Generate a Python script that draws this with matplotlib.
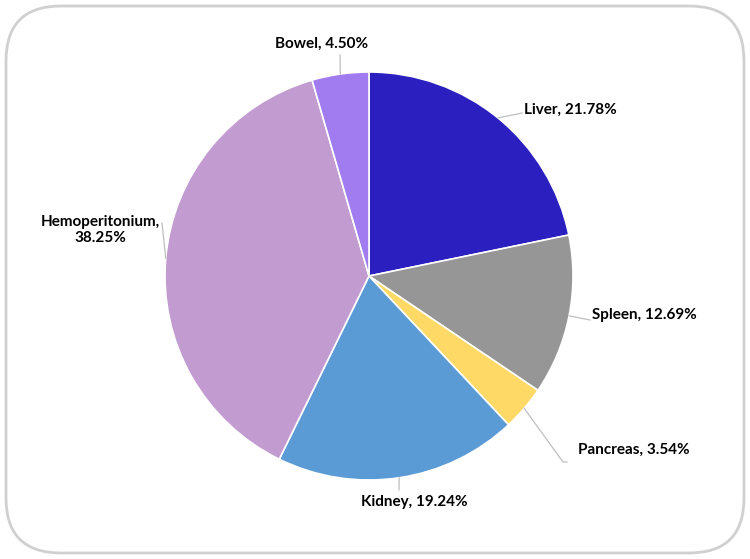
import matplotlib
matplotlib.use("Agg")
import matplotlib.pyplot as plt
from matplotlib.patches import FancyBboxPatch
import numpy as np

categories = ["Liver", "Spleen", "Pancreas", "Kidney", "Hemoperitonium", "Bowel"]
values = [21.78, 12.69, 3.54, 19.24, 38.25, 4.50]
colors = ["#2B20BF", "#969696", "#FFD966", "#5B9BD5", "#C29BD1", "#A07CF0"]
label_texts = ["Liver, 21.78%", "Spleen, 12.69%", "Pancreas, 3.54%", "Kidney, 19.24%",
               "Hemoperitonium,\n38.25%", "Bowel, 4.50%"]

W, H = 750, 559
fig = plt.figure(figsize=(W / 100, H / 100), dpi=100)
ax = fig.add_axes([0, 0, 1, 1])

cx, cy, R = 369, H - 276, 204
wedges, _ = ax.pie(values, colors=colors, startangle=90, counterclock=False,
                   center=(cx, cy), radius=R, frame=True,
                   wedgeprops=dict(edgecolor="white", linewidth=1.2))
ax.set_xlim(0, W)
ax.set_ylim(0, H)
ax.set_aspect("equal")
ax.axis("off")

border = FancyBboxPatch((6, 6), W - 12, H - 12, boxstyle="round,pad=0,rounding_size=55",
                        linewidth=2, edgecolor="#D0D0D0", facecolor="white", zorder=-5)
ax.add_patch(border)

# (text x, text y in pixels from top, ha, leader end points in pixels)
layout = [
    (524, 110, "left", [(522, 113)]),
    (592, 315, "left", [(590, 320)]),
    (578, 450, "left", [(563, 462), (567, 462)]),
    (414, 502, "center", [(399, 490)]),
    (100, 230, "center", [(162, 223)]),
    (322, 44, "center", [(340, 55)]),
]

tfont = dict(family=["Lato", "DejaVu Sans"], weight="bold", size=11, color="#000000")
for w, txt, (tx, ty, ha, pts) in zip(wedges, label_texts, layout):
    ang = np.deg2rad((w.theta1 + w.theta2) / 2)
    ex, ey = cx + R * np.cos(ang), cy + R * np.sin(ang)
    xs = [ex] + [p[0] for p in pts]
    ys = [ey] + [H - p[1] for p in pts]
    ax.plot(xs, ys, color="#BFBFBF", linewidth=0.9, zorder=1)
    ax.text(tx, H - ty, txt, ha=ha, va="center", linespacing=1.25, **tfont)

fig.savefig("out.png", dpi=100)
